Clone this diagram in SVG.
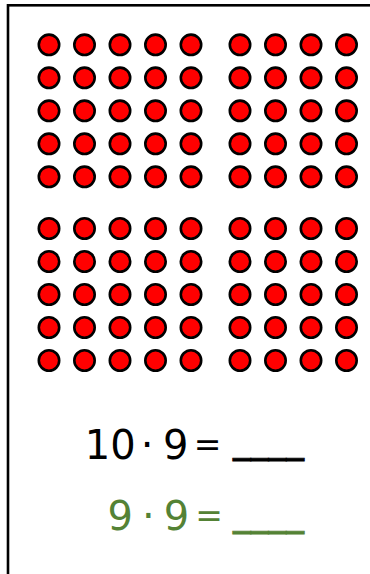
<svg xmlns="http://www.w3.org/2000/svg" width="370" height="574" viewBox="0 0 370 574">
<style>
.dot{fill:#ff0000;stroke:#000;stroke-width:2.6}
.eq{font-family:"DejaVu Sans",sans-serif;font-size:40px;text-anchor:middle}
.l1{fill:#000}
.l2{fill:#548235}
.op{font-size:33px}
.us{stroke-width:0.8}
.l1 .us{stroke:#000}
.l2 .us{stroke:#548235}
</style>
<defs>
<g id="row5"><circle class="dot" cx="49" cy="0" r="10.2"/><circle class="dot" cx="84.5" cy="0" r="10.2"/><circle class="dot" cx="120" cy="0" r="10.2"/><circle class="dot" cx="155.5" cy="0" r="10.2"/><circle class="dot" cx="191" cy="0" r="10.2"/></g>
<g id="row4"><circle class="dot" cx="240" cy="0" r="10.2"/><circle class="dot" cx="275.5" cy="0" r="10.2"/><circle class="dot" cx="311" cy="0" r="10.2"/><circle class="dot" cx="346.5" cy="0" r="10.2"/></g>
</defs>
<rect x="8" y="5.3" width="400" height="600" fill="#fff" stroke="#000" stroke-width="2.6"/>
<g id="dots-top-left">
<use href="#row5" y="44.8"/><use href="#row5" y="77.8"/><use href="#row5" y="110.8"/><use href="#row5" y="143.8"/><use href="#row5" y="176.8"/>
</g>
<g id="dots-top-right">
<use href="#row4" y="44.8"/><use href="#row4" y="77.8"/><use href="#row4" y="110.8"/><use href="#row4" y="143.8"/><use href="#row4" y="176.8"/>
</g>
<g id="dots-bottom-left">
<use href="#row5" y="228.5"/><use href="#row5" y="261.5"/><use href="#row5" y="294.5"/><use href="#row5" y="327.5"/><use href="#row5" y="360.5"/>
</g>
<g id="dots-bottom-right">
<use href="#row4" y="228.5"/><use href="#row4" y="261.5"/><use href="#row4" y="294.5"/><use href="#row4" y="327.5"/><use href="#row4" y="360.5"/>
</g>
<g id="eq1">
<text class="eq l1"><tspan x="110.3" y="458.5">10</tspan><tspan x="147" y="458.5">·</tspan><tspan x="175.8" y="458.5">9</tspan><tspan class="op" x="207.5" y="456">=</tspan><tspan class="us" x="268.4" y="451" textLength="71" lengthAdjust="spacingAndGlyphs">____</tspan></text>
</g>
<g id="eq2">
<text class="eq l2"><tspan x="120.3" y="529.5">9</tspan><tspan x="148.3" y="529.5">·</tspan><tspan x="176.6" y="529.5">9</tspan><tspan class="op" x="209" y="527">=</tspan><tspan class="us" x="268.4" y="523.5" textLength="71" lengthAdjust="spacingAndGlyphs">____</tspan></text>
</g>
</svg>
